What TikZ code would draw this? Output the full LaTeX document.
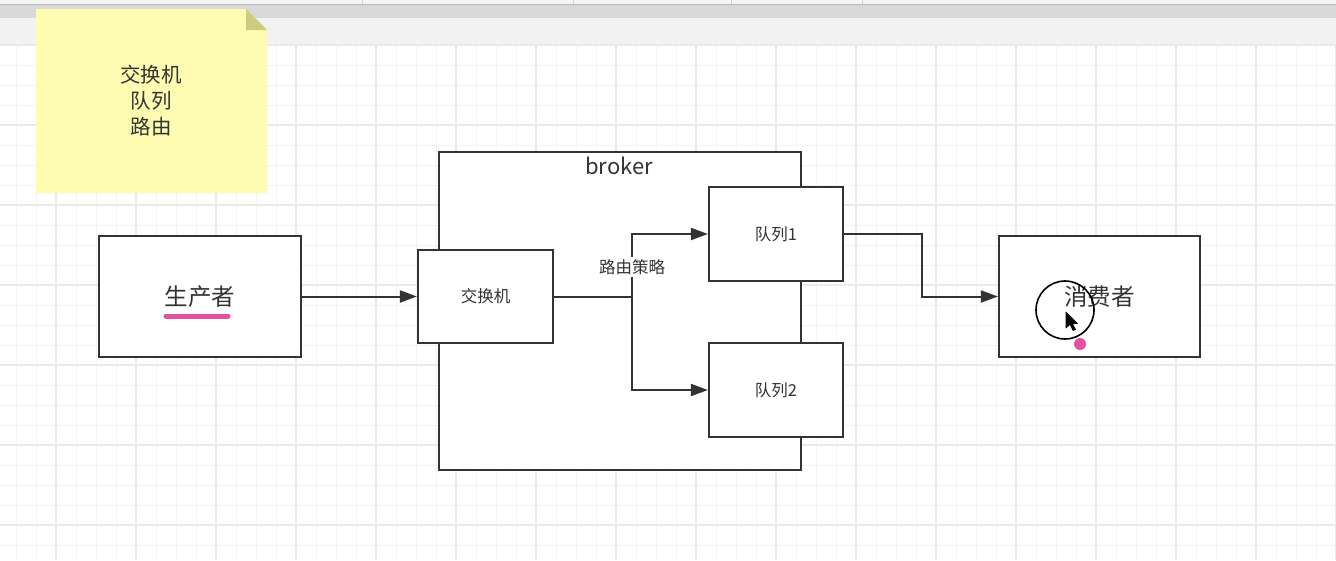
\documentclass[tikz,border=0pt]{standalone}
\usepackage{fontspec}
\setmainfont{Noto Sans CJK SC}
\usetikzlibrary{arrows.meta}
\usetikzlibrary{backgrounds}
\definecolor{ink}{RGB}{51,51,51}
\definecolor{gridminor}{RGB}{243,243,243}
\definecolor{gridmajor}{RGB}{234,234,234}
\definecolor{notefill}{RGB}{253,252,176}
\definecolor{notefold}{RGB}{206,204,128}
\definecolor{marker}{RGB}{226,82,158}
\tikzset{box/.style={draw=ink,fill=white,line width=2.2pt,rectangle,inner sep=0pt}}

\begin{document}
\begin{tikzpicture}[x=1pt,y=-1pt]
  \tikzset{flow/.style={draw=ink,line width=2pt,-{Triangle[length=17pt,width=12pt]}}}
  \tikzset{boxtext/.style={text=ink,font=\fontsize{16.5}{19}\selectfont}}
  \tikzset{bigtext/.style={text=ink,font=\fontsize{23.5}{27}\selectfont}}

  \useasboundingbox (0,0) rectangle (1336,560);
  % window chrome and grid
  \fill[white] (0,45) rectangle (1336,560);
  \fill[gray!8] (0,0) rectangle (1336,4);
  \fill[gray!30] (0,4.5) rectangle (1336,18);
  \draw[gray!55,line width=1pt] (0,4.5) -- (1336,4.5);
  \fill[gray!10] (0,18) rectangle (1336,45);
  \foreach \x in {362,573,731,862}
    \draw[gray!35,line width=0.8pt] (\x,0) -- (\x,4);
  \foreach \x in {16,36,...,1336}
    \draw[gridminor,line width=1pt] (\x,45) -- (\x,560);
  \foreach \y in {65,85,...,560}
    \draw[gridminor,line width=1pt] (0,\y) -- (1336,\y);
  \foreach \x in {56,136,...,1336}
    \draw[gridmajor,line width=1.5pt] (\x,45) -- (\x,560);
  \foreach \y in {45,125,...,560}
    \draw[gridmajor,line width=1.5pt] (0,\y) -- (1336,\y);

  % sticky note
  \fill[notefill] (36,9) -- (246,9) -- (267,30) -- (267,193) -- (36,193) -- cycle;
  \fill[notefold] (246,9) -- (267,30) -- (246,30) -- cycle;
  \node[text=ink,align=center,font=\fontsize{20.5}{26}\selectfont] (note) at (151,101) {交换机\\队列\\路由};

  \node[box,minimum width=362pt,minimum height=318pt] (broker) at (620,311) {};
  \node[text=ink,font=\fontsize{22}{25}\selectfont] (brokerlabel) at (619,166) {broker};

  \node[box,bigtext,minimum width=202pt,minimum height=121pt] (producer) at (200,296.5) {生产者};
  \node[box,boxtext,minimum width=135pt,minimum height=93pt] (exchange) at (485.5,296.5) {交换机};
  \node[box,boxtext,minimum width=134pt,minimum height=94pt] (queueA) at (776,234) {队列1};
  \node[box,boxtext,minimum width=134pt,minimum height=94pt] (queueB) at (776,390) {队列2};
  \node[box,bigtext,minimum width=201pt,minimum height=121pt] (consumer) at (1099.5,296.5) {消费者};

  \draw[flow] (producer) -- (exchange);
  \draw[draw=ink,line width=2pt] (exchange.east) -- ++(78,0) coordinate (fork);
  \draw[flow] (fork) |- (queueA);
  \draw[flow] (fork) |- (queueB);
  \draw[flow] (queueA.east) -- ++(78,0) |- (consumer);
  \node[boxtext,fill=white,inner sep=2pt] (routelabel) at (632,267) {路由策略};

  % pen marks and pointer
  \draw[marker,line width=5pt,line cap=round] (166,316) -- (228,316);
  \fill[marker] (1080,344) circle (6);
  \draw[black,line width=1.6pt] (1065,310) circle (29);
  \begin{scope}[shift={(1066,312)}]
    \draw[black,fill=black,line width=0.6pt,line join=round]
      (0,0) -- (0,16) -- (4,12.5) -- (7,18.5) -- (9.5,17.5) -- (6.5,11.5) -- (11.5,11.5) -- cycle;
  \end{scope}
\end{tikzpicture}
\end{document}
